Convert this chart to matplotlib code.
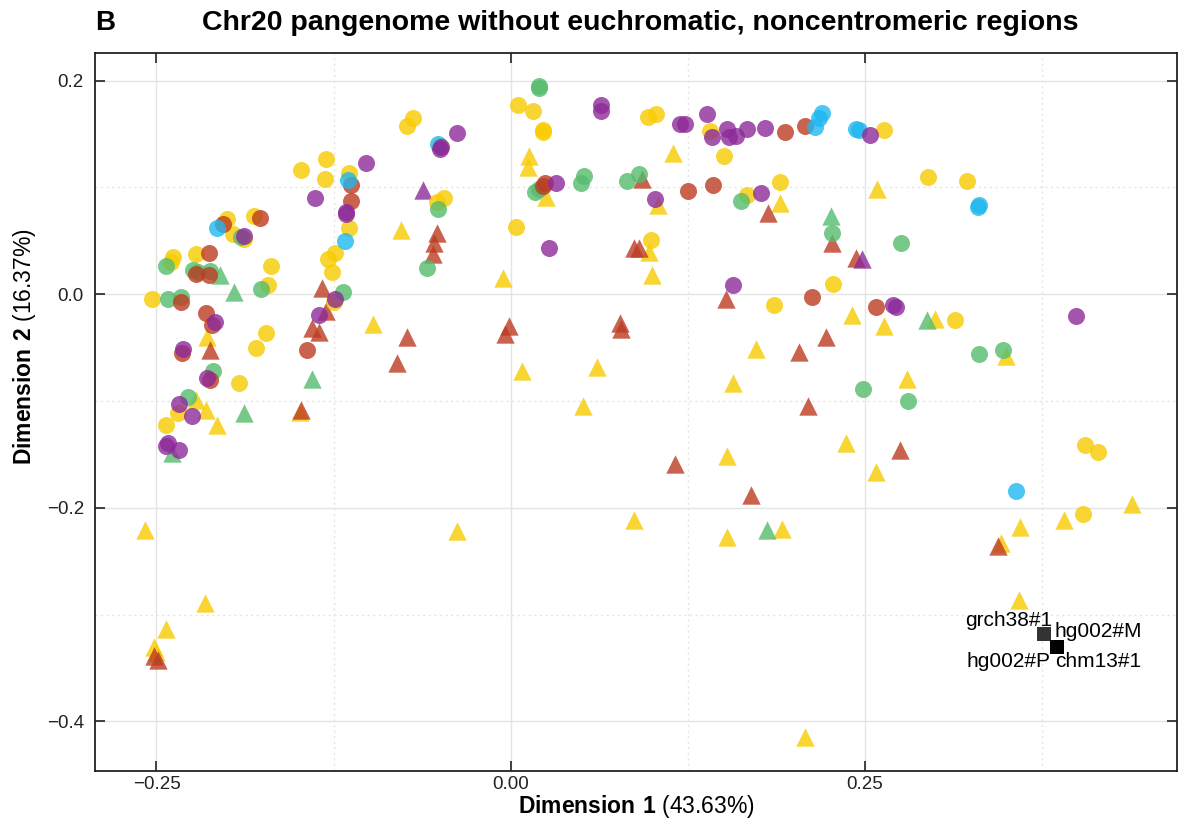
import matplotlib
matplotlib.use("Agg")
import matplotlib.pyplot as plt
from matplotlib.ticker import FixedLocator, FuncFormatter

plt.rcParams["font.family"] = ["Liberation Sans", "DejaVu Sans"]
plt.rcParams["mathtext.fontset"] = "custom"
plt.rcParams["mathtext.rm"] = "Liberation Sans"
plt.rcParams["mathtext.bf"] = "Liberation Sans:bold"

# MDS coordinates (dim1, dim2) per colour group; circles and triangles kept apart
YELLOW_CIRCLE = [
    (-0.148, 0.116), (-0.130, 0.127), (-0.131, 0.108), (-0.114, 0.114), (-0.114, 0.062),
    (-0.124, 0.039), (-0.129, 0.033), (-0.126, 0.021), (-0.125, -0.007), (-0.200, 0.070),
    (-0.196, 0.056), (-0.188, 0.052), (-0.181, 0.073), (-0.238, 0.035), (-0.240, 0.030),
    (-0.222, 0.038), (-0.169, 0.026), (-0.171, 0.009), (-0.253, -0.004), (-0.173, -0.036),
    (-0.180, -0.050), (-0.192, -0.083), (-0.235, -0.111), (-0.243, -0.122), (0.005, 0.177),
    (0.016, 0.172), (0.103, 0.169), (0.097, 0.166), (0.023, 0.154), (0.023, 0.152),
    (-0.069, 0.165), (-0.073, 0.158), (-0.050, 0.139), (-0.047, 0.090), (-0.052, 0.086),
    (0.004, 0.063), (0.099, 0.051), (0.141, 0.153), (0.264, 0.154), (0.151, 0.129),
    (0.190, 0.105), (0.167, 0.093), (0.295, 0.110), (0.322, 0.106), (0.186, -0.010),
    (0.228, 0.010), (0.314, -0.024), (0.406, -0.141), (0.415, -0.148), (0.404, -0.206),
]
GREEN_CIRCLE = [
    (-0.118, 0.002), (-0.190, 0.054), (-0.243, 0.026), (-0.224, 0.023), (-0.221, 0.021),
    (-0.212, 0.022), (-0.176, 0.005), (-0.242, -0.004), (-0.233, -0.003), (-0.210, -0.072),
    (-0.228, -0.096), (0.020, 0.195), (0.020, 0.193), (-0.051, 0.080), (0.017, 0.096),
    (0.020, 0.099), (0.052, 0.111), (0.050, 0.104), (0.082, 0.106), (0.091, 0.113),
    (-0.059, 0.025), (0.163, 0.087), (0.227, 0.057), (0.276, 0.048), (0.249, -0.089),
    (0.281, -0.100), (0.331, -0.056), (0.348, -0.052),
]
RED_CIRCLE = [
    (-0.113, 0.102), (-0.113, 0.087), (-0.203, 0.066), (-0.177, 0.071), (-0.213, 0.039),
    (-0.222, 0.019), (-0.213, 0.018), (-0.233, -0.007), (-0.215, -0.018), (-0.211, -0.029),
    (-0.232, -0.055), (-0.144, -0.052), (-0.212, -0.080), (0.024, 0.104), (0.023, 0.101),
    (0.125, 0.097), (0.143, 0.102), (0.194, 0.152), (0.208, 0.158), (0.213, -0.003),
    (0.258, -0.012),
]
PURPLE_CIRCLE = [
    (-0.102, 0.123), (-0.138, 0.090), (-0.116, 0.077), (-0.116, 0.075), (-0.124, -0.004),
    (-0.188, 0.055), (-0.209, -0.026), (-0.231, -0.051), (-0.135, -0.019), (-0.214, -0.078),
    (-0.234, -0.103), (-0.225, -0.114), (-0.242, -0.139), (-0.243, -0.142), (-0.234, -0.146),
    (0.064, 0.177), (0.064, 0.172), (0.120, 0.159), (-0.038, 0.151), (-0.050, 0.136),
    (-0.049, 0.138), (0.032, 0.104), (0.102, 0.089), (0.027, 0.043), (0.123, 0.159),
    (0.139, 0.169), (0.142, 0.147), (0.153, 0.155), (0.154, 0.147), (0.159, 0.148),
    (0.167, 0.155), (0.180, 0.156), (0.254, 0.149), (0.177, 0.095), (0.157, 0.009),
    (0.270, -0.010), (0.272, -0.012), (0.399, -0.020),
]
CYAN_CIRCLE = [
    (-0.115, 0.107), (-0.117, 0.050), (-0.207, 0.062), (-0.051, 0.141), (0.220, 0.170),
    (0.218, 0.165), (0.215, 0.157), (0.244, 0.155), (0.246, 0.154), (0.330, 0.082),
    (0.331, 0.084), (0.357, -0.184),
]
YELLOW_TRI = [
    (-0.214, -0.040), (-0.097, -0.028), (-0.222, -0.099), (-0.215, -0.108), (-0.207, -0.122),
    (-0.149, -0.110), (-0.258, -0.221), (-0.216, -0.289), (-0.243, -0.313), (-0.252, -0.330),
    (-0.250, -0.335), (0.013, 0.129), (0.012, 0.119), (0.115, 0.132), (0.025, 0.091),
    (0.104, 0.084), (-0.077, 0.060), (-0.005, 0.015), (0.098, 0.040), (0.100, 0.018),
    (0.008, -0.072), (0.061, -0.068), (0.051, -0.105), (-0.038, -0.222), (0.087, -0.211),
    (0.190, 0.085), (0.259, 0.099), (0.241, -0.019), (0.264, -0.030), (0.300, -0.023),
    (0.173, -0.051), (0.157, -0.083), (0.280, -0.079), (0.237, -0.139), (0.153, -0.151),
    (0.258, -0.166), (0.153, -0.227), (0.192, -0.220), (0.350, -0.058), (0.439, -0.196),
    (0.391, -0.211), (0.360, -0.218), (0.346, -0.233), (0.359, -0.286), (0.208, -0.415),
]
RED_TRI = [
    (-0.133, 0.006), (-0.212, -0.052), (-0.130, -0.016), (-0.140, -0.032), (-0.135, -0.035),
    (-0.148, -0.108), (-0.249, -0.342), (-0.252, -0.339), (-0.052, 0.057), (-0.054, 0.048),
    (-0.055, 0.038), (0.093, 0.108), (0.087, 0.043), (0.091, 0.043), (-0.073, -0.040),
    (-0.080, -0.064), (-0.001, -0.030), (-0.004, -0.037), (0.077, -0.027), (0.078, -0.033),
    (0.116, -0.159), (0.182, 0.076), (0.227, 0.048), (0.244, 0.034), (0.152, -0.004),
    (0.223, -0.040), (0.204, -0.054), (0.210, -0.105), (0.275, -0.146), (0.170, -0.188),
    (0.344, -0.236),
]
GREEN_TRI = [
    (-0.205, 0.018), (-0.195, 0.002), (-0.140, -0.079), (-0.188, -0.111), (-0.239, -0.149),
    (0.226, 0.073), (0.294, -0.024), (0.181, -0.221),
]
PURPLE_TRI = [(-0.062, 0.098), (0.248, 0.033)]

# reference assemblies
REF_NAMES = ["grch38#1", "hg002#M", "hg002#P", "chm13#1"]
REF_X = [0.377, 0.386, 0.386, 0.386]
REF_Y = [-0.318, -0.330, -0.330, -0.330]

COL = {"yellow": "#F8CB00", "green": "#55BC6D", "red": "#BC3C22",
       "purple": "#8D2A99", "cyan": "#1FB8EF"}

LAYERS = [
    (YELLOW_TRI, "yellow", "^"), (RED_TRI, "red", "^"), (GREEN_TRI, "green", "^"),
    (PURPLE_TRI, "purple", "^"), (YELLOW_CIRCLE, "yellow", "o"), (GREEN_CIRCLE, "green", "o"),
    (RED_CIRCLE, "red", "o"), (CYAN_CIRCLE, "cyan", "o"), (PURPLE_CIRCLE, "purple", "o"),
]


def _minus(fmt):
    return FuncFormatter(lambda v, _: (fmt % v).replace("-", "\u2212"))


def main():
    fig = plt.figure(figsize=(11.79, 8.27), dpi=100)
    ax = fig.add_axes([0.0806, 0.0681, 0.9178, 0.8682])

    for pts, col, mk in LAYERS:
        xs, ys = zip(*pts)
        ax.scatter(xs, ys, s=175 if mk == "^" else 150, marker=mk, c=COL[col],
                   alpha=0.8, linewidths=0, zorder=3)

    ax.scatter(REF_X, REF_Y, s=110, marker="s", c="black", alpha=0.8, linewidths=0, zorder=4)
    offsets = {"grch38#1": (8, 13, "right"), "hg002#M": (-3, 15, "left"),
               "hg002#P": (-7, -15, "right"), "chm13#1": (-2, -15, "left")}
    for name, x, y in zip(REF_NAMES, REF_X, REF_Y):
        dx, dy, ha = offsets[name]
        ax.annotate(name, (x, y), xytext=(dx, dy), textcoords="offset pixels",
                    ha=ha, va="center", fontsize=15, color="black", zorder=5)

    ax.set_xlim(-0.2934, 0.4707)
    ax.set_ylim(-0.4461, 0.2262)
    ax.xaxis.set_major_locator(FixedLocator([-0.25, 0.0, 0.25]))
    ax.xaxis.set_minor_locator(FixedLocator([-0.125, 0.125, 0.375]))
    ax.yaxis.set_major_locator(FixedLocator([-0.4, -0.2, 0.0, 0.2]))
    ax.yaxis.set_minor_locator(FixedLocator([-0.3, -0.1, 0.1]))
    ax.xaxis.set_major_formatter(_minus("%.2f"))
    ax.yaxis.set_major_formatter(_minus("%.1f"))

    ax.grid(which="major", color="#E4E4E4", lw=1.0)
    ax.grid(which="minor", color="#E4E4E4", lw=1.0, ls=(0, (1.5, 2.5)))
    ax.set_axisbelow(True)

    ax.tick_params(which="major", direction="in", length=7, width=1.2, top=True, right=True,
                   color="#222222", labelsize=13.5, labelcolor="#222222")
    ax.tick_params(axis="x", which="major", pad=4)
    ax.tick_params(axis="y", which="major", pad=8)
    ax.tick_params(which="minor", length=0)
    for sp in ax.spines.values():
        sp.set_color("#222222")
        sp.set_linewidth(1.3)

    ax.set_xlabel(r"$\mathbf{Dimension\ 1}$ (43.63%)", fontsize=16.5, labelpad=0)
    ax.set_ylabel(r"$\mathbf{Dimension\ 2}$ (16.37%)", fontsize=16.5, labelpad=6)
    ax.yaxis.label.set_y(0.59)

    fig.text(0.0806, 0.972, "B", fontsize=20, fontweight="bold", va="center", ha="left")
    fig.text(0.543, 0.972, "Chr20 pangenome without euchromatic, noncentromeric regions",
             fontsize=20.5, fontweight="bold", va="center", ha="center")

    fig.savefig("out.png", dpi=100)
    plt.close(fig)


if __name__ == "__main__":
    main()
